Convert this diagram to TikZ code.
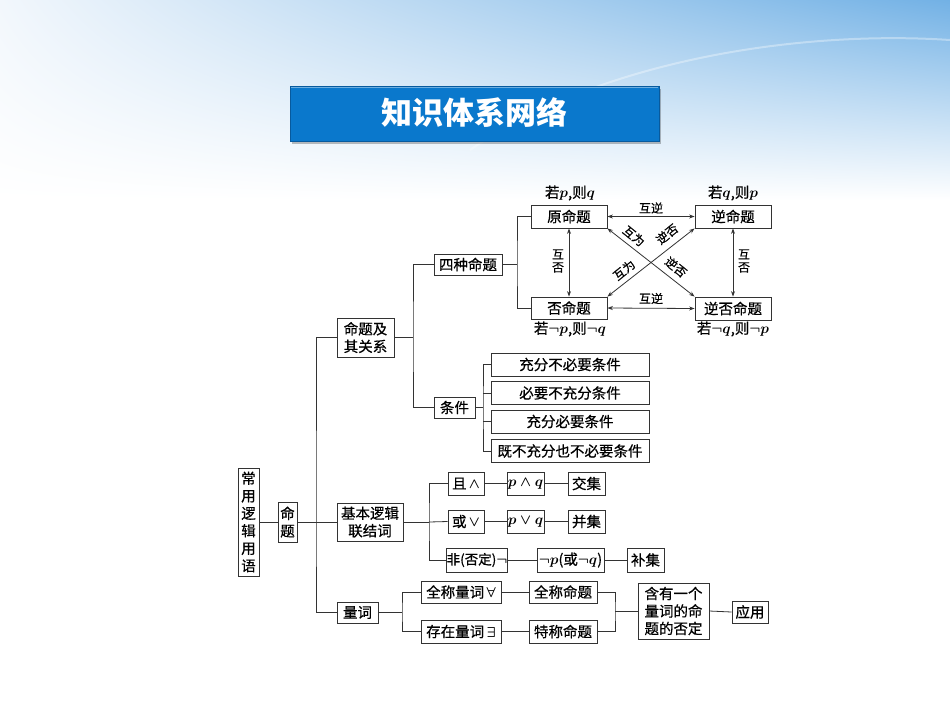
\documentclass[tikz,border=0pt]{standalone}
\usepackage{fontspec}
\newfontfamily\cjk[FakeBold=0.6]{Noto Sans CJK SC}
\newfontfamily\cjkt{Noto Sans CJK SC}
\usetikzlibrary{arrows.meta,shadings}
\definecolor{linec}{HTML}{333333}
\definecolor{bannerc}{HTML}{0A78CC}
\definecolor{bannerd}{HTML}{075A9E}
\definecolor{skyA}{HTML}{F2F7FC}
\definecolor{skyB}{HTML}{72B1E5}
\tikzset{
  bx/.style={draw=linec, line width=0.8pt, inner sep=0pt, fill=white, text=black,
    align=center, font=\cjk\boldmath\fontsize{14.5}{17.5}\selectfont},
  ln/.style={draw=linec, line width=0.8pt},
  arr/.style={ln, {Stealth[length=5.5pt,width=4pt]}-{Stealth[length=5.5pt,width=4pt]}},
  lbl/.style={inner sep=0pt, font=\cjk\fontsize{12}{13}\selectfont},
  cond/.style={inner sep=0pt, font=\cjk\boldmath\fontsize{14.5}{16}\selectfont}
}
\begin{document}
\begin{tikzpicture}[x=1pt,y=-1pt]
\useasboundingbox (0,0) rectangle (950,713);
\fill[white] (0,0) rectangle (950,713);
\shade[upper left=skyA, upper right=skyB, lower left=white, lower right=white] (0,0) rectangle (950,200);
\draw[white, opacity=0.35, line width=2pt] (470,150) .. controls (600,60) and (800,30) .. (950,40);

% banner
\fill[black, opacity=0.25] (292,89) rectangle (661,144);
\fill[bannerc] (290,86) rectangle (659,141);
\draw[bannerd, line width=0.8pt] (290,86) rectangle (659,141);
\draw[white, opacity=0.4, line width=0.8pt] (291,87) -- (658,87);
\node[text=white, inner sep=0pt, font=\cjkt\bfseries\fontsize{31}{31}\selectfont] (title) at (474,113) {知识体系网络};

% four propositions
\node[bx, minimum width=76, minimum height=23] (yuan) at (569,216.5) {原命题};
\node[bx, minimum width=76, minimum height=23] (ni) at (733,216.5) {逆命题};
\node[bx, minimum width=76, minimum height=22] (fou) at (569,308) {否命题};
\node[bx, minimum width=76, minimum height=23] (nf) at (733,308.5) {逆否命题};
\node[cond] (t1) at (570,193) {若$p$,则$q$};
\node[cond] (t2) at (733,193) {若$q$,则$p$};
\node[cond] (t3) at (570,329) {若$\neg p$,则$\neg q$};
\node[cond] (t4) at (733,329) {若$\neg q$,则$\neg p$};

\draw[arr] (yuan.east) -- (ni.west);
\draw[arr] (fou.east) -- (nf.west);
\draw[arr] (yuan.south) -- (fou.north);
\draw[arr] (ni.south) -- (nf.north);
\draw[arr] (yuan.south east) -- (nf.north west);
\draw[arr] (fou.north east) -- (ni.south west);
\node[lbl] (l1) at (651,208) {互逆};
\node[lbl] (l2) at (651,298.5) {互逆};
\node[lbl, align=center] (l3) at (558,261) {互\\否};
\node[lbl, align=center] (l4) at (744,261) {互\\否};
\node[lbl, rotate=-39] (l5) at (634,236) {互为};
\node[lbl, rotate=39] (l6) at (667,234) {逆否};
\node[lbl, rotate=39] (l7) at (624,270) {互为};
\node[lbl, rotate=-39] (l8) at (676,267) {逆否};

% left structure
\node[bx, minimum width=68, minimum height=21] (sz) at (468,264.5) {四种命题};
\node[bx, minimum width=57, minimum height=39] (mtg) at (365.5,337.5) {命题及\\其关系};
\node[bx, minimum width=41, minimum height=21] (tj) at (454.5,407.5) {条件};
\node[bx, minimum width=158, minimum height=23] (c1) at (570,364.5) {充分不必要条件};
\node[bx, minimum width=158, minimum height=23] (c2) at (570,393) {必要不充分条件};
\node[bx, minimum width=158, minimum height=23] (c3) at (570,421.5) {充分必要条件};
\node[bx, minimum width=158, minimum height=23] (c4) at (570,451) {既不充分也不必要条件};

\node[bx, minimum width=21, minimum height=108] (cy) at (248.5,522) {常\\用\\逻\\辑\\用\\语};
\node[bx, minimum width=19, minimum height=40] (mt) at (287.5,522) {命\\题};
\node[bx, minimum width=66, minimum height=38] (jb) at (370,522) {基本逻辑\\联结词};

\node[bx, minimum width=36, minimum height=23] (qie) at (466,483.5) {且\,$\wedge$};
\node[bx, minimum width=37, minimum height=23] (pq1) at (525.5,483.5) {$p\wedge q$};
\node[bx, minimum width=37, minimum height=23] (jj) at (586.5,483.5) {交集};
\node[bx, minimum width=36, minimum height=23] (huo) at (466,521.5) {或\,$\vee$};
\node[bx, minimum width=37, minimum height=23] (pq2) at (525.5,521.5) {$p\vee q$};
\node[bx, minimum width=37, minimum height=23] (bj) at (586.5,521.5) {并集};
\node[bx, minimum width=58, minimum height=24, font=\cjk\boldmath\fontsize{13.5}{15}\selectfont] (fei) at (477,560) {非(否定)$\neg$};
\node[bx, minimum width=67, minimum height=24] (np) at (570.5,560) {$\neg p$(或$\neg q$)};
\node[bx, minimum width=37, minimum height=24] (buj) at (645.5,560) {补集};

\node[bx, minimum width=41, minimum height=21] (lc) at (357.5,612.5) {量词};
\node[bx, minimum width=80, minimum height=22] (qc) at (461,592) {全称量词\,$\forall$};
\node[bx, minimum width=80, minimum height=23] (cz) at (461,631.5) {存在量词\,$\exists$};
\node[bx, minimum width=68, minimum height=22] (qm) at (563,592) {全称命题};
\node[bx, minimum width=68, minimum height=23] (tm) at (563,631.5) {特称命题};
\node[bx, minimum width=71, minimum height=56] (hy) at (673.5,611) {含有一个\\量词的命\\题的否定};
\node[bx, minimum width=36, minimum height=22] (yy) at (750,612) {应用};

% branch points
\coordinate (b1) at (517,264.5);
\coordinate (b2) at (413,337.5);
\coordinate (b3) at (483,407.5);
\coordinate (b4) at (316,522);
\coordinate (b5) at (429,522);
\coordinate (b6) at (402,612.5);
\coordinate (b7) at (615,611);

\draw[ln] (sz.east) -- (b1);
\draw[ln] (yuan.west) -| (b1) |- (fou.west);
\draw[ln] (mtg.east) -- (b2);
\draw[ln] (sz.west) -| (b2) |- (tj.west);
\draw[ln] (tj.east) -- (b3);
\draw[ln] (c1.west) -| (b3) |- (c4.west);
\draw[ln] (c2.west) -- (c2.west -| b3);
\draw[ln] (c3.west) -- (c3.west -| b3);

\draw[ln] (cy.east) -- (mt.west);
\draw[ln] (mt.east) -- (jb.west);
\draw[ln] (mtg.west) -| (b4) |- (lc.west);

\draw[ln] (jb.east) -- (b5);
\draw[ln] (qie.west) -| (b5) |- (fei.west);
\draw[ln] (huo.west) -- (b5);
\draw[ln] (qie.east) -- (pq1.west);
\draw[ln] (pq1.east) -- (jj.west);
\draw[ln] (huo.east) -- (pq2.west);
\draw[ln] (pq2.east) -- (bj.west);
\draw[ln] (fei.east) -- (np.west);
\draw[ln] (np.east) -- (buj.west);

\draw[ln] (lc.east) -- (b6);
\draw[ln] (qc.west) -| (b6) |- (cz.west);
\draw[ln] (qc.east) -- (qm.west);
\draw[ln] (cz.east) -- (tm.west);
\draw[ln] (qm.east) -| (b7) |- (tm.east);
\draw[ln] (b7) -- (hy.west);
\draw[ln] (hy.east) -- (yy.west);
\end{tikzpicture}
\end{document}
